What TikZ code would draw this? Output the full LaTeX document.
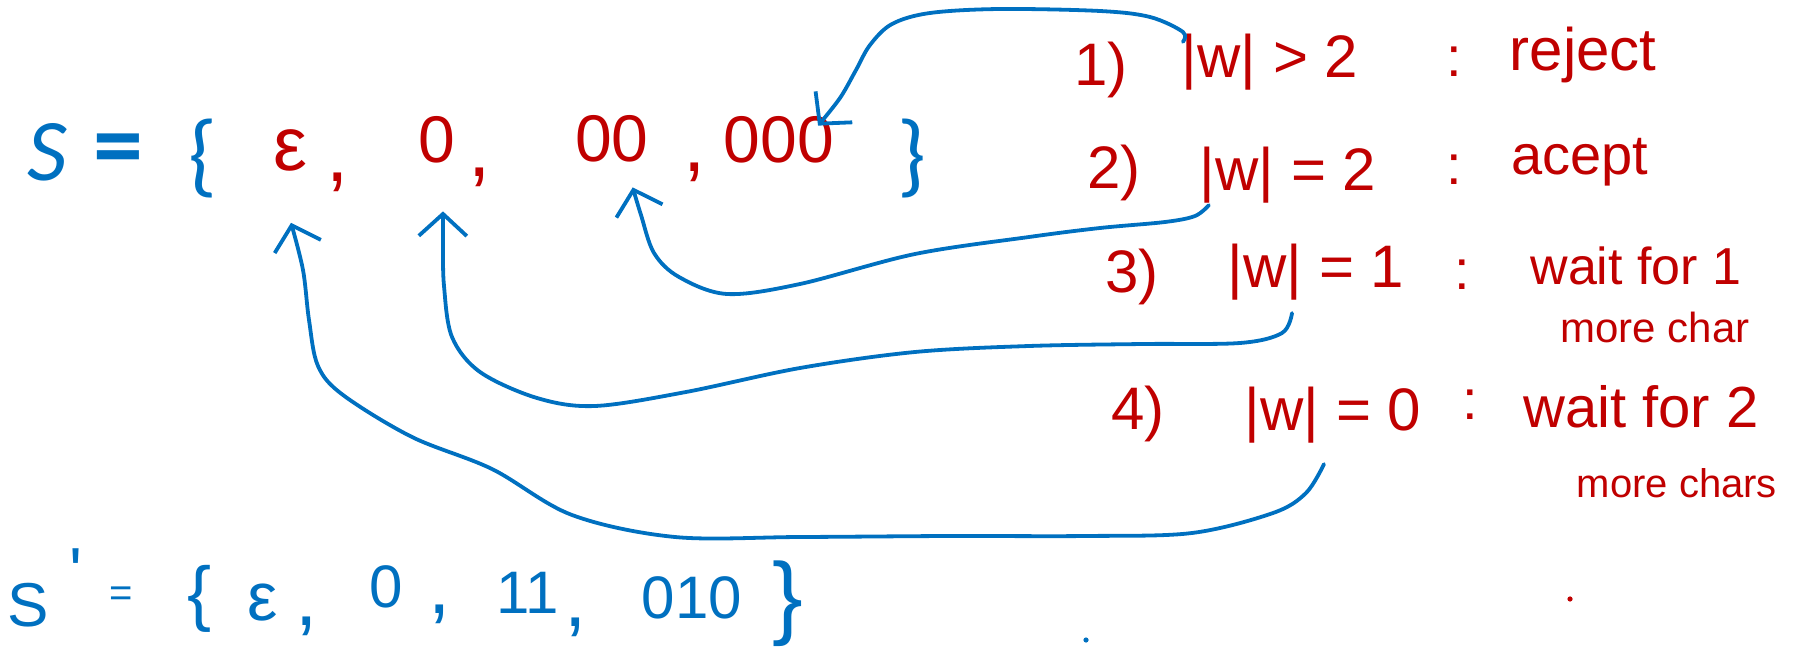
\documentclass[tikz,border=0pt]{standalone}
\usepackage{fontspec}
\setmainfont{Liberation Sans}
\newfontfamily\typed{Carlito}
\usetikzlibrary{arrows.meta}
\definecolor{inkblue}{RGB}{0,112,192}
\definecolor{inkred}{RGB}{192,0,0}
\begin{document}
\begin{tikzpicture}[x=0.5pt,y=-0.5pt,
  every node/.style={inner sep=0pt, outer sep=0pt},
  typed/.style={text=inkblue, font=\typed\fontsize{44}{52}\selectfont},
  typedbrace/.style={text=inkblue, font=\typed\fontsize{46}{54}\selectfont},
  setel/.style={text=inkred, font=\fontsize{33}{40}\selectfont},
  setcomma/.style={text=inkred, font=\fontsize{40}{48}\selectfont},
  num/.style={text=inkred, font=\fontsize{30}{36}\selectfont},
  cond/.style={text=inkred, font=\fontsize{30}{36}\selectfont},
  colon/.style={text=inkred, font=\fontsize{28}{34}\selectfont},
  bset/.style={text=inkblue, font=\fontsize{30}{36}\selectfont},
  bcomma/.style={text=inkblue, font=\fontsize{40}{48}\selectfont},
  arr/.style={draw=inkblue, line width=1.9pt, line cap=round, line join=round,
    -{Straight Barb[length=11pt,width=24pt,line width=1.9pt]}},
]
\useasboundingbox (0,0) rectangle (1793,652);

% top set (typed blue, handwritten red elements)
\node[typed] (S) at (47,152) {\itshape S};
\node[typed, font=\typed\bfseries\fontsize{50}{58}\selectfont] (eq) at (118,156) {=};
\node[typedbrace] (lb) at (203,159) {\{};
\node[setel, font=\fontsize{38}{44}\selectfont] (eps) at (290,150) {ε};
\node[setcomma] (cm1) at (338,182) {,};
\node[setel] (zero) at (437,140) {0};
\node[setcomma] (cm2) at (480,177) {,};
\node[setel] (zz) at (612,139) {00};
\node[setcomma] (cm3) at (695,172) {,};
\node[setel] (zzz) at (779,140) {000};
\node[typedbrace] (rb) at (912,159) {\}};

% rules
\node[num] (n1) at (1101,70) {1)};
\node[cond] (c1) at (1270,62) {|w| > 2};
\node[colon] (k1) at (1454,62) {:};
\node[num, font=\fontsize{30}{36}\selectfont] (a1) at (1583,55) {reject};

\node[num] (n2) at (1114,173) {2)};
\node[cond] (c2) at (1288,175) {|w| = 2};
\node[colon] (k2) at (1454,170) {:};
\node[num, font=\fontsize{28}{34}\selectfont] (a2) at (1580,162) {acept};

\node[num] (n3) at (1132,277) {3)};
\node[cond] (c3) at (1316,272) {|w| = 1};
\node[colon] (k3) at (1462,275) {:};
\node[num, font=\fontsize{26}{32}\selectfont] (a3) at (1636,266) {wait for 1};
\node[num, font=\fontsize{21}{26}\selectfont] (m3) at (1655,327) {more char};

\node[num] (n4) at (1138,414) {4)};
\node[cond] (c4) at (1333,415) {|w| = 0};
\node[colon] (k4) at (1470,405) {:};
\node[num, font=\fontsize{29}{34}\selectfont] (a4) at (1641,407) {wait for 2};
\node[num, font=\fontsize{20}{25}\selectfont] (m4) at (1677,483) {more chars};

% bottom set
\node[bset, font=\fontsize{31}{36}\selectfont] (bS) at (28,605) {S};
\node[bset, font=\fontsize{34}{40}\selectfont] (bpr) at (76,572) {\textquotesingle};
\node[bset, font=\fontsize{20}{24}\selectfont] (beq) at (121,597) {=};
\node[bset, font=\fontsize{36}{42}\selectfont] (blb) at (200,599) {\{};
\node[bset, font=\fontsize{34}{40}\selectfont] (beps) at (263,603) {ε};
\node[bcomma] (bc1) at (307,626) {,};
\node[bset] (bzero) at (386,587) {0};
\node[bcomma] (bc2) at (440,614) {,};
\node[bset, font=\fontsize{30}{36}\selectfont] (bone) at (528,593) {11};
\node[bcomma] (bc3) at (576,627) {,};
\node[bset] (bozo) at (692,598) {010};
\node[bset, font=\fontsize{46}{52}\selectfont] (brb) at (788,604) {\}};

% stray dots
\fill[inkred] (1570,599) circle (1.3pt);
\fill[inkblue] (1086,640) circle (1.3pt);

% connectors
\draw[arr] plot[smooth, tension=0.55] coordinates {([xshift=0.5pt,yshift=-4pt]c1.north west) (1183,32) (1150,17) (1100,11) (1000,9) (930,13) (892,24) (870,45) (856,70) (840,98) ([xshift=-8pt,yshift=-4.5pt]zzz.north east)};
\draw[arr] plot[smooth, tension=0.55] coordinates {([xshift=4.5pt,yshift=-1pt]c2.south west) (1195,216) (1165,222) (1100,228) (1029,237) (915,254) (800,284) (727,294) (679,277) (654,253) (641,215) ([xshift=-8pt,yshift=-12.5pt]zz.south east)};
\draw[arr] plot[smooth, tension=0.55] coordinates {([xshift=-12pt,yshift=-6.5pt]c3.south) (1282,333) (1240,343) (1143,344) (1029,346) (915,352) (800,368) (686,392) (595,406) (537,398) (480,372) (452,337) (444,286) (443,245) ([xshift=3pt,yshift=-24pt]zero.south)};
\draw[arr] plot[smooth, tension=0.55] coordinates {([xshift=-4.5pt,yshift=-10.5pt]c4.south) (1306,493) (1273,513) (1192,533) (1086,536) (949,536) (800,537) (675,537) (572,515) (492,469) (412,437) (343,395) (318,366) (309,320) (303,270) ([xshift=0.5pt,yshift=-26pt]eps.south)};
\end{tikzpicture}
\end{document}
